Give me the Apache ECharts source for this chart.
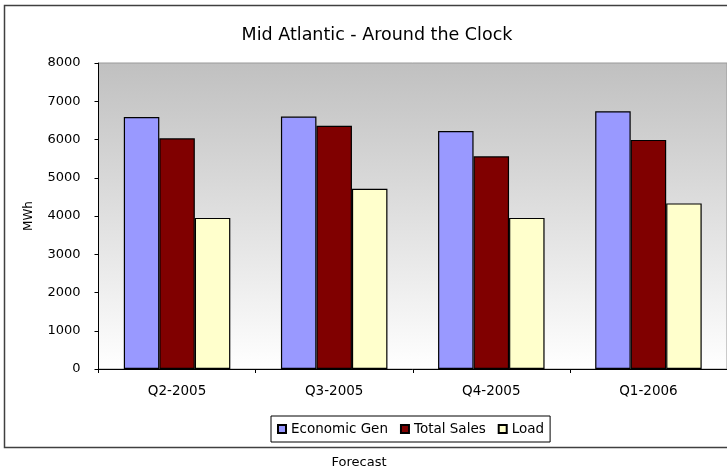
<!DOCTYPE html>
<html>
<head>
<meta charset="utf-8">
<script src="https://cdn.jsdelivr.net/npm/echarts@6/dist/echarts.min.js"></script>
<style>
  html, body { margin: 0; padding: 0; background: #fff; }
  #chart { width: 727px; height: 468px; }
</style>
</head>
<body>
<div id="chart"></div>
<script>
// quarters on the x axis
const quarters = ['Q2-2005', 'Q3-2005', 'Q4-2005', 'Q1-2006'];
// MWh values
const economicGen = [6590, 6600, 6220, 6740];
const totalSales = [6030, 6360, 5560, 5990];
const load = [3950, 4710, 3950, 4330];
const yTicks = [0, 1000, 2000, 3000, 4000, 5000, 6000, 7000, 8000];

const font = 'DejaVu Sans';
const myChart = echarts.init(document.getElementById('chart'));

function barSeries(name, data, color) {
  return {
    name: name,
    type: 'bar',
    data: data,
    barWidth: 35.5,
    barGap: '0%',
    itemStyle: { color: color, borderColor: '#000', borderWidth: 1.2 }
  };
}

const option = {
  animation: false,
  textStyle: { fontFamily: font },
  title: [
    {
      text: 'Mid Atlantic - Around the Clock',
      left: 372, top: 21, textAlign: 'center',
      textStyle: { fontSize: 17.5, fontWeight: 'normal', color: '#000', fontFamily: font }
    },
    {
      text: 'Forecast',
      left: 354, top: 451, textAlign: 'center',
      textStyle: { fontSize: 13, fontWeight: 'normal', color: '#000', fontFamily: font }
    }
  ],
  graphic: [
    {
      type: 'rect',
      shape: { x: 4.5, y: 5.5, width: 800, height: 442 },
      style: { fill: null, stroke: '#404040', lineWidth: 1.5 },
      z: -1
    }
  ],
  legend: {
    left: 271, top: 416,
    padding: [6, 6, 6, 6],
    itemWidth: 8, itemHeight: 8, itemGap: 12,
    icon: 'rect',
    borderColor: '#000', borderWidth: 1,
    textStyle: { fontSize: 13.5, color: '#000', fontFamily: font },
    data: ['Economic Gen', 'Total Sales', 'Load']
  },
  grid: {
    left: 98.5, top: 63, width: 630, height: 306,
    show: true,
    borderColor: '#999', borderWidth: 1,
    backgroundColor: new echarts.graphic.LinearGradient(0, 0, 0, 1, [
      { offset: 0, color: '#c0c0c0' },
      { offset: 1, color: '#ffffff' }
    ])
  },
  xAxis: {
    type: 'category',
    data: quarters,
    axisLine: { lineStyle: { color: '#000', width: 1 } },
    axisTick: { show: true, length: 4, lineStyle: { color: '#000' } },
    axisLabel: { color: '#000', fontSize: 13.5, margin: 15, fontFamily: font }
  },
  yAxis: {
    type: 'value',
    min: yTicks[0], max: yTicks[yTicks.length - 1], interval: 1000,
    name: 'MWh', nameLocation: 'middle', nameGap: 64, nameRotate: 90,
    nameTextStyle: { fontSize: 12, color: '#000', fontFamily: font },
    axisLine: { show: true, lineStyle: { color: '#000', width: 1 } },
    axisTick: { show: true, length: 4, lineStyle: { color: '#000' } },
    axisLabel: {
      color: '#000', fontSize: 13, margin: 18, fontFamily: font,
      formatter: function (v) { return String(v); }
    },
    splitLine: { show: false }
  },
  series: [
    barSeries('Economic Gen', economicGen, '#9999ff'),
    barSeries('Total Sales', totalSales, '#800000'),
    barSeries('Load', load, '#ffffcc')
  ]
};

myChart.setOption(option);
</script>
</body>
</html>
